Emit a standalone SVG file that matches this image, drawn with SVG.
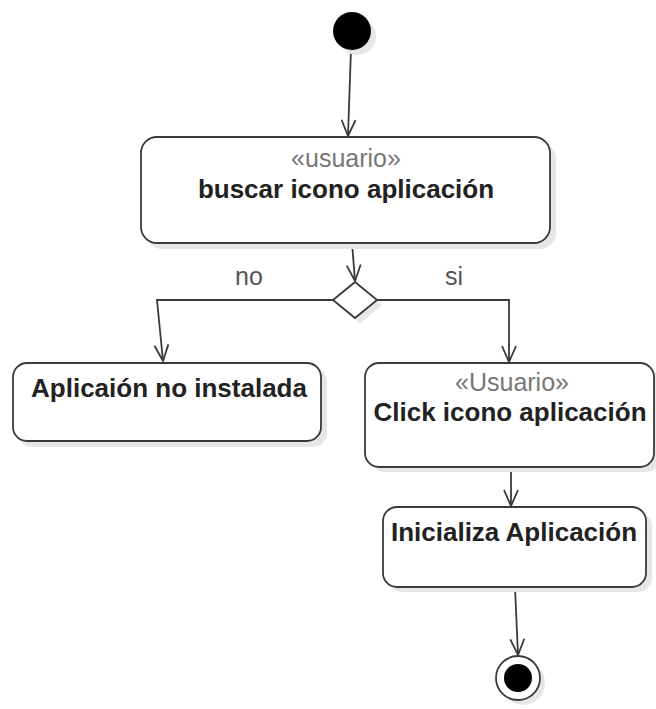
<svg xmlns="http://www.w3.org/2000/svg" width="656" height="709" viewBox="0 0 656 709">
<style>
.box{fill:#fff;stroke:#3a3a3a;stroke-width:1.8}
.sh{fill:#e6e6e6}
.t{font-family:"Liberation Sans",Arial,sans-serif;font-size:26px;font-weight:bold;fill:#222;text-anchor:middle}
.st{font-family:"Liberation Sans",Arial,sans-serif;font-size:25px;fill:#777;text-anchor:middle}
.lb{font-family:"Liberation Sans",Arial,sans-serif;font-size:25px;fill:#555;text-anchor:middle}
.c{fill:none;stroke:#3a3a3a;stroke-width:1.8}
</style>
<defs>
<marker id="arr" viewBox="0 0 20 20" refX="18" refY="10" markerWidth="20" markerHeight="20" markerUnits="userSpaceOnUse" orient="auto">
<path d="M2 3 L18 10 L2 17" fill="none" stroke="#3a3a3a" stroke-width="1.8"/>
</marker>
</defs>
<rect width="656" height="709" fill="#fff"/>
<g id="connectors">
<path class="c" d="M351 49 L348 136" marker-end="url(#arr)"/>
<path class="c" d="M352 243 L355 281" marker-end="url(#arr)"/>
<path class="c" d="M333 300 L157 300 L163 361" marker-end="url(#arr)"/>
<path class="c" d="M377 300 L509 300 L509 362" marker-end="url(#arr)"/>
<path class="c" d="M511 467 L511 506" marker-end="url(#arr)"/>
<path class="c" d="M515 587 L518 655" marker-end="url(#arr)"/>
<text class="lb" x="249" y="285">no</text>
<text class="lb" x="454" y="285">si</text>
</g>
<g id="start">
<circle cx="357" cy="36" r="19" class="sh"/>
<circle cx="352" cy="31" r="19" fill="#000"/>
</g>
<g id="buscar">
<rect class="sh" x="146" y="143" width="410" height="106" rx="16"/>
<rect class="box" x="141" y="137" width="409" height="106" rx="16"/>
<text class="st" x="346" y="167">«usuario»</text>
<text class="t" x="346" y="198">buscar icono aplicación</text>
</g>
<g id="decision">
<path class="sh" d="M360 287 L382 305 L360 323 L338 305 Z"/>
<path d="M355 282 L377 300 L355 318 L333 300 Z" fill="#fff" stroke="#3a3a3a" stroke-width="1.8"/>
</g>
<g id="noinstalada">
<rect class="sh" x="18" y="368" width="309" height="79" rx="14"/>
<rect class="box" x="13" y="363" width="308" height="78" rx="14"/>
<text class="t" x="169" y="397">Aplicaión no instalada</text>
</g>
<g id="click">
<rect class="sh" x="370" y="368" width="290" height="104" rx="14"/>
<rect class="box" x="365" y="363" width="289" height="104" rx="14"/>
<text class="st" x="512" y="391">«Usuario»</text>
<text class="t" x="510" y="421">Click icono aplicación</text>
</g>
<g id="inicializa">
<rect class="sh" x="388" y="512" width="264" height="80" rx="14"/>
<rect class="box" x="383" y="507" width="263" height="80" rx="14"/>
<text class="t" x="514" y="541">Inicializa Aplicación</text>
</g>
<g id="end">
<circle cx="523" cy="683" r="22" class="sh"/>
<circle cx="518" cy="678" r="22" fill="#fff" stroke="#3a3a3a" stroke-width="1.8"/>
<circle cx="518" cy="678" r="14" fill="#000"/>
</g>
</svg>
